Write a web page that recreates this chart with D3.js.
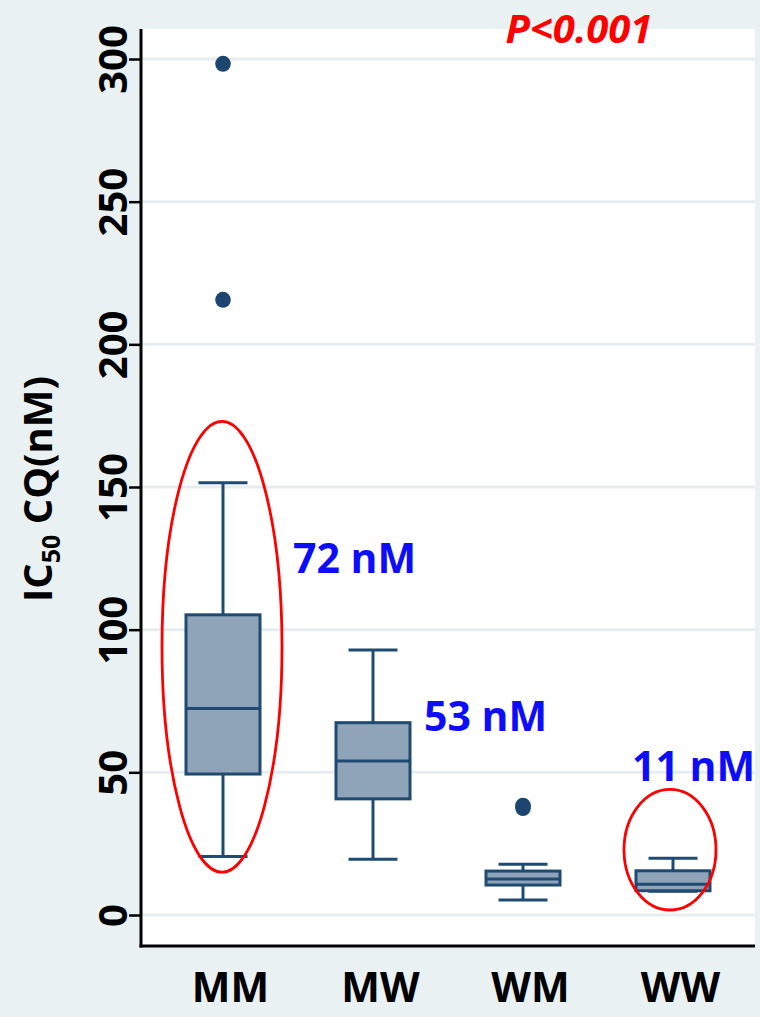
<!DOCTYPE html>
<html>
<head>
<meta charset="utf-8">
<script src="https://cdn.jsdelivr.net/npm/d3@7"></script>
<style>
  html, body { margin: 0; padding: 0; background: #e9f1f3; }
  svg { display: block; }
  text { font-family: "Open Sans", "Liberation Sans", sans-serif; font-weight: 700; }
</style>
</head>
<body>
<svg id="chart" width="760" height="1017"></svg>
<script>
// ---------- data ----------
const categories = ["MM", "MW", "WM", "WW"];
const whiskerLow  = [20.5, 19.5, 5.3, 8.3];
const q1          = [49.4, 40.7, 10.5, 8.5];
const median      = [72.4, 54.0, 12.6, 10.8];
const q3          = [105.2, 67.4, 15.4, 15.5];
const whiskerHigh = [151.5, 92.9, 17.8, 19.9];
const outlierCats   = ["MM", "MM", "WM", "WM"];
const outlierValues = [298.3, 215.6, 37.5, 38.3];
const yTicks = [0, 50, 100, 150, 200, 250, 300];
const medianLabelCats  = ["MM", "MW", "WW"];
const medianLabelTexts = ["72 nM", "53 nM", "11 nM"];
const medianLabelY     = [120, 64.5, 47];
const ellipseCats   = ["MM", "WW"];
const ellipseTop    = [173, 44];
const ellipseBottom = [15, 1.75];
const pText = "P<0.001";

// ---------- layout ----------
const svg = d3.select("#chart");
const plot = { left: 141, right: 755, top: 29, bottom: 946 };

const x = d3.scalePoint().domain(categories).range([223, 673]);
const y = d3.scaleLinear().domain([0, 300]).range([915, 59]);

// plot background
svg.append("rect")
  .attr("x", plot.left).attr("y", plot.top)
  .attr("width", plot.right - plot.left).attr("height", plot.bottom - plot.top)
  .attr("fill", "#ffffff");

// gridlines
svg.append("g").selectAll("line").data(yTicks).join("line")
  .attr("x1", plot.left).attr("x2", plot.right)
  .attr("y1", d => y(d)).attr("y2", d => y(d))
  .attr("stroke", "#e5edf1").attr("stroke-width", 3);

// y axis
const yAxis = d3.axisLeft(y).tickValues(yTicks).tickSize(12).tickPadding(0).tickFormat(d3.format("d"));
const gy = svg.append("g").attr("transform", `translate(${plot.left},0)`).call(yAxis);
gy.select(".domain").remove();
gy.selectAll(".tick line").attr("stroke", "#000").attr("stroke-width", 2.5);
gy.selectAll(".tick text")
  .attr("x", 0).attr("dy", null)
  .attr("transform", "translate(-14,0) rotate(-90)")
  .attr("text-anchor", "middle")
  .attr("fill", "#000")
  .style("font-size", "40px");

// axis lines
svg.append("line").attr("x1", plot.left).attr("x2", plot.left)
  .attr("y1", plot.top).attr("y2", plot.bottom + 1.5)
  .attr("stroke", "#000").attr("stroke-width", 3);
svg.append("line").attr("x1", plot.left - 1.5).attr("x2", plot.right)
  .attr("y1", plot.bottom).attr("y2", plot.bottom)
  .attr("stroke", "#000").attr("stroke-width", 3);

// x labels
const gx = d3.axisBottom(x).tickSize(0).tickPadding(0);
const gxs = svg.append("g").attr("transform", `translate(7,${plot.bottom})`).call(gx);
gxs.select(".domain").remove();
gxs.selectAll(".tick text").attr("y", 56).attr("dy", null)
  .attr("fill", "#000").style("font-size", "41px");

// boxes
const boxW = 74, capW = 49;
const boxColor = "#1f4a72", fillColor = "#8fa4b8";
const boxes = svg.append("g");
categories.forEach((c, i) => {
  const cx = x(c);
  const g = boxes.append("g");
  g.append("line").attr("x1", cx).attr("x2", cx).attr("y1", y(whiskerHigh[i])).attr("y2", y(q3[i]))
    .attr("stroke", boxColor).attr("stroke-width", 3);
  g.append("line").attr("x1", cx).attr("x2", cx).attr("y1", y(q1[i])).attr("y2", y(whiskerLow[i]))
    .attr("stroke", boxColor).attr("stroke-width", 3);
  g.append("line").attr("x1", cx - capW / 2).attr("x2", cx + capW / 2)
    .attr("y1", y(whiskerHigh[i])).attr("y2", y(whiskerHigh[i]))
    .attr("stroke", boxColor).attr("stroke-width", 3);
  g.append("line").attr("x1", cx - capW / 2).attr("x2", cx + capW / 2)
    .attr("y1", y(whiskerLow[i])).attr("y2", y(whiskerLow[i]))
    .attr("stroke", boxColor).attr("stroke-width", 3);
  g.append("rect").attr("x", cx - boxW / 2).attr("width", boxW)
    .attr("y", y(q3[i])).attr("height", y(q1[i]) - y(q3[i]))
    .attr("fill", fillColor).attr("stroke", boxColor).attr("stroke-width", 3);
  g.append("line").attr("x1", cx - boxW / 2).attr("x2", cx + boxW / 2)
    .attr("y1", y(median[i])).attr("y2", y(median[i]))
    .attr("stroke", boxColor).attr("stroke-width", 3);
});

// outliers
svg.append("g").selectAll("ellipse").data(outlierValues).join("ellipse")
  .attr("cx", (d, i) => x(outlierCats[i]))
  .attr("cy", d => y(d))
  .attr("rx", 7.8).attr("ry", 8)
  .attr("fill", "#1c4670");

// red ellipses
const ellipseRx = { MM: 60, WW: 46 };
const ellipseDx = { MM: -1, WW: -3 };
svg.append("g").selectAll("ellipse").data(ellipseCats).join("ellipse")
  .attr("cx", d => x(d) + ellipseDx[d])
  .attr("cy", (d, i) => (y(ellipseTop[i]) + y(ellipseBottom[i])) / 2)
  .attr("rx", d => ellipseRx[d])
  .attr("ry", (d, i) => (y(ellipseBottom[i]) - y(ellipseTop[i])) / 2)
  .attr("fill", "none").attr("stroke", "#ff0000").attr("stroke-width", 2.8);

// median labels
const labelDx = { MM: 70, MW: 51, WW: -41 };
svg.append("g").selectAll("text").data(medianLabelTexts).join("text")
  .attr("x", (d, i) => x(medianLabelCats[i]) + labelDx[medianLabelCats[i]])
  .attr("y", (d, i) => y(medianLabelY[i]))
  .attr("fill", "#0d0dfa")
  .style("font-size", "41px")
  .text(d => d);

// p-value
svg.append("text")
  .attr("x", 579).attr("y", 43)
  .attr("text-anchor", "middle")
  .attr("fill", "#ff0000")
  .style("font-size", "40px").style("font-style", "italic")
  .text(pText);

// y axis title
const yt = svg.append("text")
  .attr("transform", "translate(52,489) rotate(-90)")
  .attr("text-anchor", "middle")
  .attr("fill", "#000")
  .style("font-size", "40px");
yt.append("tspan").text("IC");
yt.append("tspan").attr("dy", 8).style("font-size", "25px").text("50");
yt.append("tspan").attr("dy", -8).text("\u00a0CQ(nM)");
</script>
</body>
</html>
